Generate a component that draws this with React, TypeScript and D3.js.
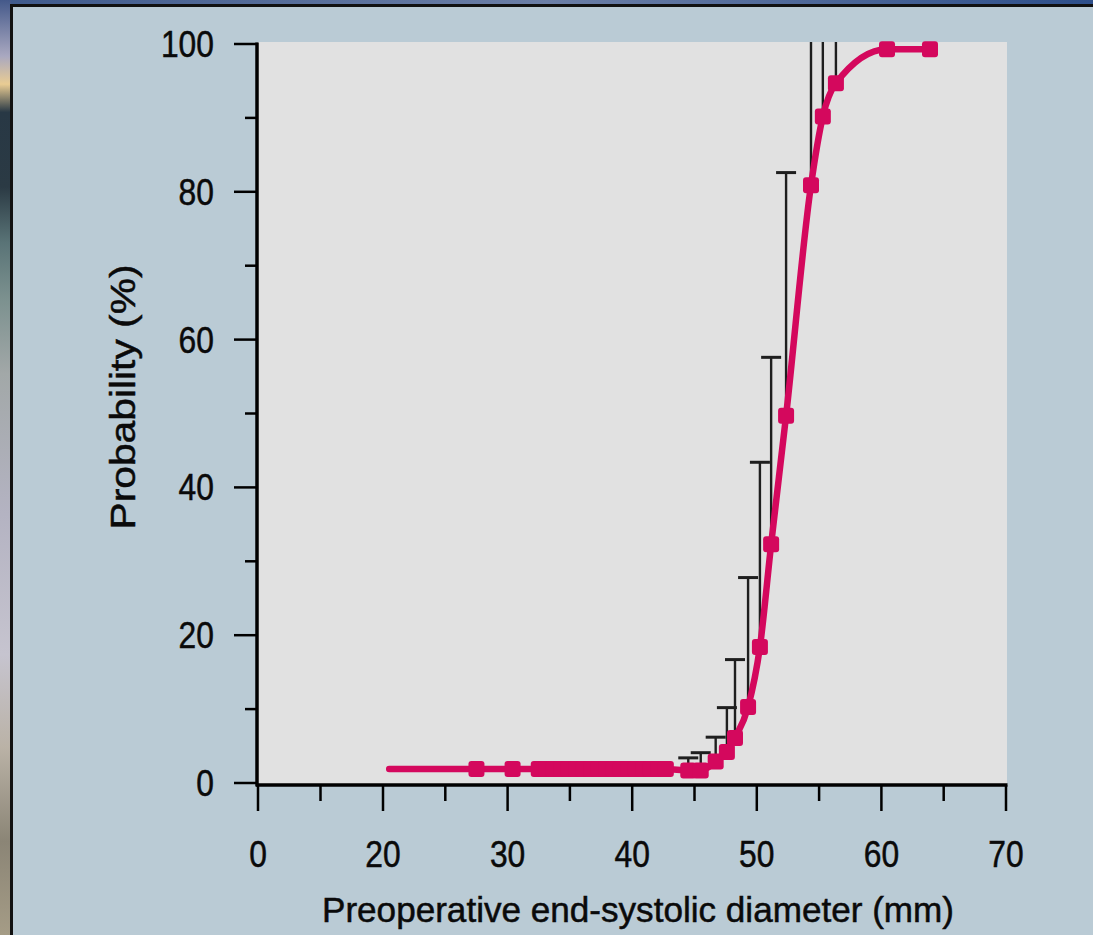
import React from "react";
import * as d3 from "d3";

// ---- data ----
const xMajorTicks = [0, 20, 30, 40, 50, 60, 70];
const xMinorTicks = [10, 25, 35, 45, 55, 65];
const yMajorTicks = [0, 20, 40, 60, 80, 100];
const yMinorTicks = [10, 30, 50, 70, 90];

// fitted curve start (no marker)
const curveStart = [{ x: 20.5, y: 1.9 }];

// markers: diameter (mm), probability (%)
const markerX = [
  27.5, 30.4, 32.5, 33.1, 33.7, 34.3, 34.9, 35.5, 36.1, 36.7, 37.3, 37.9, 38.5,
  39.1, 39.7, 40.3, 40.9, 41.5, 42.1, 42.7, 44.5, 45.5, 46.7, 47.6, 48.25, 49.3,
  50.25, 51.15, 52.35, 54.35, 55.3, 56.35, 60.45, 63.9,
];
const markerY = [
  1.9, 1.9, 1.9, 1.9, 1.9, 1.9, 1.9, 1.9, 1.9, 1.9, 1.9, 1.9, 1.9, 1.9, 1.9,
  1.9, 1.9, 1.9, 1.9, 1.9, 1.7, 1.7, 2.9, 4.2, 6.1, 10.3, 18.4, 32.3, 49.7, 80.9,
  90.2, 94.7, 99.3, 99.3,
];

// upper confidence limits (%) for points with error bars
const errX = [44.5, 45.5, 46.7, 47.6, 48.25, 49.3, 50.25, 51.15, 52.35, 54.35, 55.3, 56.35];
const errLow = [1.7, 1.7, 2.9, 4.2, 6.1, 10.3, 18.4, 32.3, 49.7, 80.9, 90.2, 94.7];
const errHigh = [3.4, 4.1, 6.2, 10.2, 16.7, 27.8, 43.4, 57.6, 82.6, 150, 150, 150];

const xTitle = "Preoperative end-systolic diameter (mm)";
const yTitle = "Probability (%)";

const PINK = "#d4085d";
const FONT = "'Liberation Sans', Arial, Helvetica, sans-serif";

export default function App() {
  const W = 1093;
  const H = 935;
  const x = d3.scaleLinear().domain([0, 20, 70]).range([258, 383, 1006]);
  const y = d3.scaleLinear().domain([0, 100]).range([783, 44]);

  const plotLeft = x(0);
  const plotRight = x(70) + 1;
  const plotTop = y(100) - 2;
  const axisY = 785;

  const markers = markerX.map((v, i) => ({ x: v, y: markerY[i] }));
  const curvePts = [...curveStart, ...markers];
  const line = d3
    .line<{ x: number; y: number }>()
    .x((d) => x(d.x))
    .y((d) => y(d.y))
    .curve(d3.curveMonotoneX);

  const errs = errX.map((v, i) => ({ x: v, lo: errLow[i], hi: errHigh[i] }));

  const textStyle = { stroke: "#0a0a0a", strokeWidth: 0.5 } as const;

  return (
    <svg
      width={W}
      height={H}
      style={{ position: "absolute", left: 0, top: 0, display: "block" }}
    >
      <defs>
        <linearGradient id="strip" x1="0" y1="0" x2="0" y2="1">
          <stop offset="0" stopColor="#44598a" />
          <stop offset="0.06" stopColor="#a9a8c0" />
          <stop offset="0.09" stopColor="#e9cc93" />
          <stop offset="0.12" stopColor="#283845" />
          <stop offset="0.2" stopColor="#2b3a44" />
          <stop offset="0.26" stopColor="#5a7477" />
          <stop offset="0.32" stopColor="#7c918f" />
          <stop offset="0.4" stopColor="#a2a8a8" />
          <stop offset="0.55" stopColor="#b4b3c2" />
          <stop offset="0.7" stopColor="#c6c4cf" />
          <stop offset="0.8" stopColor="#bab2a6" />
          <stop offset="0.9" stopColor="#8b8576" />
          <stop offset="1" stopColor="#a59c86" />
        </linearGradient>
        <linearGradient id="topstrip" x1="0" y1="0" x2="1" y2="0">
          <stop offset="0" stopColor="#3f5a8c" />
          <stop offset="0.5" stopColor="#6c7fa6" />
          <stop offset="1" stopColor="#2e4f8a" />
        </linearGradient>
        <clipPath id="plotClip">
          <rect x={plotLeft} y={plotTop} width={plotRight - plotLeft} height={axisY - plotTop} />
        </clipPath>
      </defs>

      {/* outer background */}
      <rect x={0} y={0} width={W} height={H} fill="url(#topstrip)" />
      <rect x={0} y={0} width={11} height={H} fill="url(#strip)" />
      {/* panel */}
      <rect x={11.5} y={5.5} width={W} height={H} fill="#bacbd5" stroke="#111" strokeWidth={3} />

      {/* plot area */}
      <rect x={plotLeft} y={plotTop} width={plotRight - plotLeft} height={axisY - plotTop} fill="#e1e1e1" />

      {/* error bars */}
      <g clipPath="url(#plotClip)" stroke="#1e1e1e" strokeWidth={2.4}>
        {errs.map((d, i) => (
          <g key={i}>
            <line x1={x(d.x)} x2={x(d.x)} y1={y(d.lo)} y2={y(d.hi)} />
            <line x1={x(d.x) - 10} x2={x(d.x) + 10} y1={y(d.hi)} y2={y(d.hi)} strokeWidth={3} />
          </g>
        ))}
      </g>

      {/* fitted curve */}
      <path d={line(curvePts) || ""} fill="none" stroke={PINK} strokeWidth={6.5} strokeLinecap="round" />

      {/* markers */}
      <g fill={PINK}>
        {markers.map((d, i) => (
          <rect key={i} x={x(d.x) - 8} y={y(d.y) - 8} width={16} height={16} rx={3} />
        ))}
      </g>

      {/* y axis */}
      <line x1={plotLeft - 1} x2={plotLeft - 1} y1={y(100) - 1.5} y2={axisY + 1.5} stroke="#000" strokeWidth={3.5} />
      {yMajorTicks.map((t) => (
        <g key={"ym" + t}>
          <line x1={234} x2={plotLeft} y1={y(t)} y2={y(t)} stroke="#000" strokeWidth={2.5} />
          <text
            transform={`translate(214,${y(t) + 13}) scale(0.86,1)`}
            textAnchor="end"
            fontFamily={FONT}
            fontSize={37}
            fill="#0a0a0a"
            style={textStyle}
          >
            {t}
          </text>
        </g>
      ))}
      {yMinorTicks.map((t) => (
        <line key={"yn" + t} x1={245} x2={plotLeft} y1={y(t)} y2={y(t)} stroke="#000" strokeWidth={2.5} />
      ))}

      {/* x axis */}
      <line x1={plotLeft - 2} x2={x(70) + 1.5} y1={axisY} y2={axisY} stroke="#000" strokeWidth={3.5} />
      {xMajorTicks.map((t) => (
        <g key={"xm" + t}>
          <line x1={x(t)} x2={x(t)} y1={axisY} y2={811} stroke="#000" strokeWidth={2.5} />
          <text
            transform={`translate(${x(t)},867) scale(0.86,1)`}
            textAnchor="middle"
            fontFamily={FONT}
            fontSize={37}
            fill="#0a0a0a"
            style={textStyle}
          >
            {t}
          </text>
        </g>
      ))}
      {xMinorTicks.map((t) => (
        <line key={"xn" + t} x1={x(t)} x2={x(t)} y1={axisY} y2={801} stroke="#000" strokeWidth={2.5} />
      ))}

      {/* titles */}
      <text
        x={638}
        y={922}
        textAnchor="middle"
        fontFamily={FONT}
        fontSize={35}
        fill="#0a0a0a"
        style={textStyle}
        textLength={632}
        lengthAdjust="spacingAndGlyphs"
      >
        {xTitle}
      </text>
      <text
        transform="translate(135,397) rotate(-90)"
        textAnchor="middle"
        fontFamily={FONT}
        fontSize={35}
        fill="#0a0a0a"
        style={textStyle}
        textLength={265}
        lengthAdjust="spacingAndGlyphs"
      >
        {yTitle}
      </text>
    </svg>
  );
}
